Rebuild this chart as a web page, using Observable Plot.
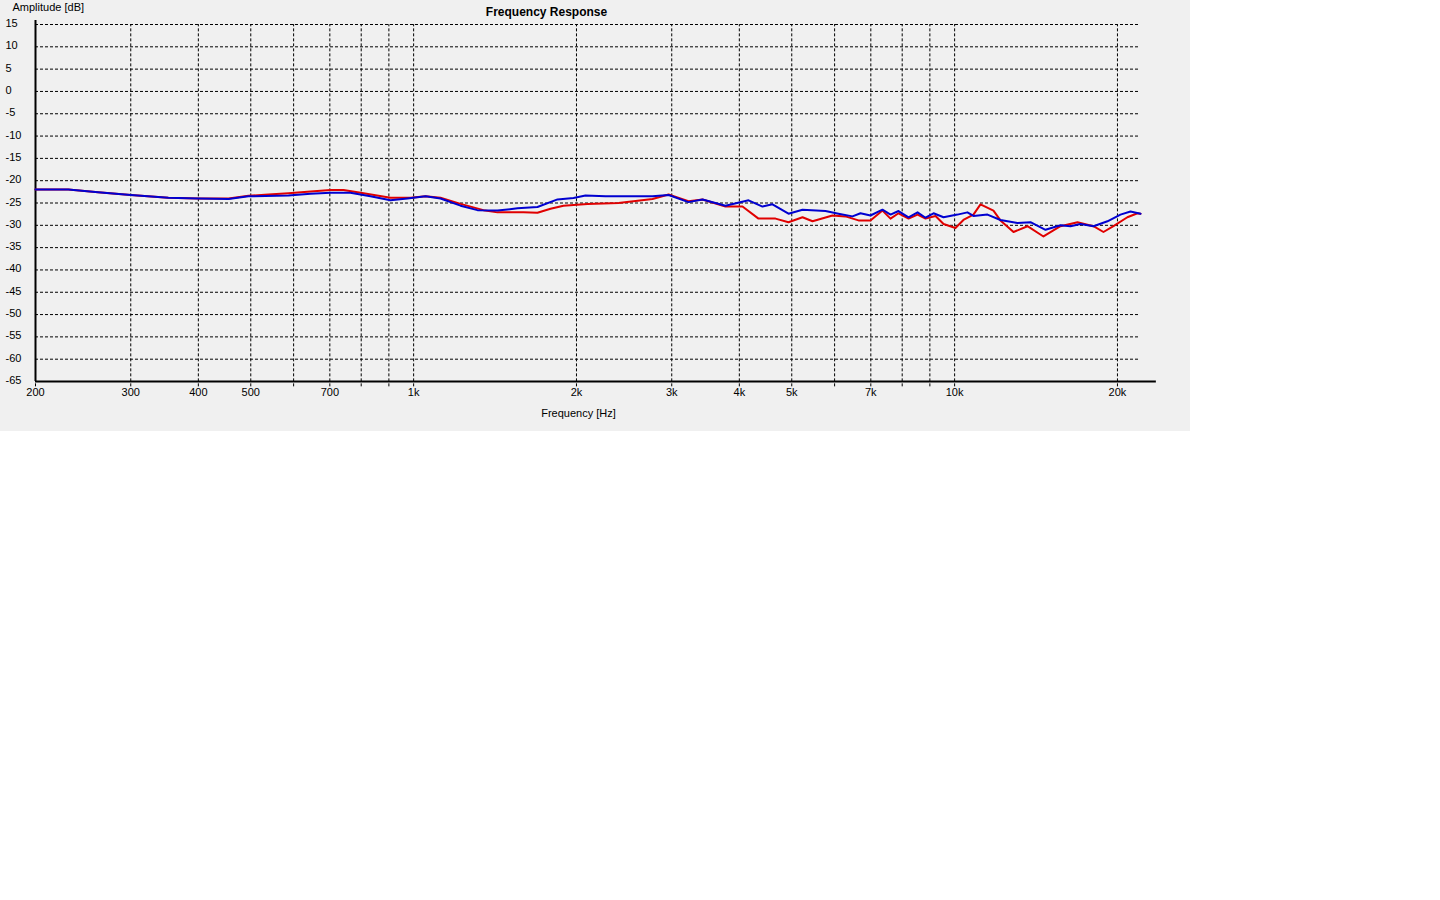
<!DOCTYPE html>
<html>
<head>
<meta charset="utf-8">
<script src="https://cdn.jsdelivr.net/npm/d3@7"></script>
<script src="https://cdn.jsdelivr.net/npm/@observablehq/plot@0.6"></script>
<style>
  html, body { margin: 0; padding: 0; background: #ffffff; }
  #chart svg { display: block; }
</style>
</head>
<body>
<div id="chart"></div>
<script>
// ---- Data ----
const blueFreq = [200, 230, 261, 300, 352, 400, 455, 495, 587, 645, 702, 764, 832, 906, 974, 1052, 1121, 1221, 1312, 1429, 1556, 1694, 1845, 1975, 2078, 2263, 2764, 2960, 3221, 3420, 3771, 4160, 4415, 4606, 4931, 5234, 5772, 6100, 6474, 6699, 6990, 7356, 7612, 7876, 8220, 8540, 8836, 9142, 9540, 10122, 10560, 10834, 11502, 12154, 13068, 13812, 14722, 15690, 16376, 17088, 18058, 19166, 20254, 21140, 22060];
const blueDb = [-22.0, -22.0, -22.6, -23.2, -23.8, -24.0, -24.1, -23.5, -23.3, -22.9, -22.7, -22.7, -23.5, -24.4, -24.0, -23.5, -24.0, -25.6, -26.6, -26.7, -26.2, -25.9, -24.2, -23.9, -23.3, -23.5, -23.5, -23.2, -24.8, -24.2, -25.6, -24.4, -25.8, -25.3, -27.4, -26.5, -26.8, -27.4, -28.0, -27.3, -27.8, -26.5, -27.6, -26.8, -28.2, -27.1, -28.3, -27.3, -28.2, -27.6, -27.1, -27.9, -27.6, -28.8, -29.5, -29.3, -31.0, -30.0, -30.2, -29.7, -30.2, -29.1, -27.6, -26.9, -27.4];

const redFreq = [200, 230, 261, 300, 352, 400, 455, 495, 539, 587, 645, 702, 742, 798, 906, 987, 1052, 1121, 1221, 1346, 1429, 1596, 1694, 1791, 1892, 2096, 2392, 2764, 2960, 3221, 3420, 3771, 4054, 4340, 4666, 4931, 5234, 5462, 5946, 6283, 6642, 6990, 7356, 7612, 7876, 8220, 8540, 8836, 9220, 9540, 10036, 10382, 10834, 11164, 11798, 12154, 12848, 13636, 14596, 15690, 16872, 18058, 18842, 19662, 20860, 21780, 22060];
const redDb = [-22.0, -22.0, -22.6, -23.2, -23.8, -24.0, -24.0, -23.4, -23.1, -22.8, -22.4, -22.1, -22.1, -22.7, -23.8, -23.8, -23.5, -23.8, -25.2, -26.6, -27.1, -27.1, -27.2, -26.3, -25.6, -25.2, -25.0, -24.1, -23.1, -24.6, -24.2, -25.8, -25.8, -28.5, -28.5, -29.3, -28.2, -29.1, -27.8, -28.0, -28.9, -28.9, -26.7, -28.5, -27.3, -28.5, -27.6, -28.5, -27.9, -29.7, -30.6, -28.8, -27.6, -25.3, -26.7, -28.9, -31.5, -30.2, -32.5, -30.2, -29.3, -30.2, -31.5, -30.2, -28.2, -27.3, -27.4];

const yTicks = [15, 10, 5, 0, -5, -10, -15, -20, -25, -30, -35, -40, -45, -50, -55, -60, -65];
const yGrid = [15, 10, 5, 0, -5, -10, -15, -20, -25, -30, -35, -40, -45, -50, -55, -60];
const xTicks = [200, 300, 400, 500, 700, 1000, 2000, 3000, 4000, 5000, 7000, 10000, 20000];
const xGrid = [200, 300, 400, 500, 600, 700, 800, 900, 1000, 2000, 3000, 4000, 5000, 6000, 7000, 8000, 9000, 10000, 20000];

const title = "Frequency Response";
const yLabel = "Amplitude [dB]";
const xLabel = "Frequency [Hz]";

// ---- Layout constants ----
const xDomain = [200, 22060];
const yDomain = [-65, 15];
const xAxisEnd = 23600;   // bottom axis line extends a little past the grid
const yAxisTop = 15.9;    // left axis line extends a little above the grid
const tickBottom = -66.2; // dashed tick stubs below the axis

const blue = blueFreq.map((f, i) => ({f, db: blueDb[i]}));
const red = redFreq.map((f, i) => ({f, db: redDb[i]}));

const fmtX = d => d >= 1000 ? (d / 1000) + "k" : String(d);
const fmtY = d => String(d);

const chart = Plot.plot({
  width: 1190,
  height: 431,
  marginLeft: 35,
  marginRight: 50,
  marginTop: 24,
  marginBottom: 50,
  style: {
    background: "#f0f0f0",
    fontFamily: "'Liberation Sans', Arial, sans-serif",
    fontSize: "11px",
    color: "#000"
  },
  x: {type: "log", domain: xDomain},
  y: {domain: yDomain},
  marks: [
    // grid
    Plot.ruleY(yGrid, {x1: xDomain[0], x2: xDomain[1], stroke: "#000", strokeWidth: 1, strokeDasharray: "3,2"}),
    Plot.ruleX(xGrid, {y1: tickBottom, y2: yDomain[1], stroke: "#000", strokeWidth: 1, strokeDasharray: "3,2"}),
    // axes lines
    Plot.ruleY([yDomain[0]], {x1: xDomain[0], x2: xAxisEnd, stroke: "#000", strokeWidth: 2}),
    Plot.ruleX([xDomain[0]], {y1: yDomain[0], y2: yAxisTop, stroke: "#000", strokeWidth: 2}),
    // tick labels
    Plot.axisY(yTicks, {anchor: "left", tickSize: 0, tickPadding: 30, textAnchor: "start", dy: -1, tickFormat: fmtY, fontSize: 11, fill: "#000", label: null}),
    Plot.axisX(xTicks, {anchor: "bottom", tickSize: 0, tickPadding: 7, tickFormat: fmtX, fontSize: 11, fill: "#000", label: null}),
    // data
    Plot.line(red, {x: "f", y: "db", stroke: "#e00000", strokeWidth: 2}),
    Plot.line(blue, {x: "f", y: "db", stroke: "#0000d0", strokeWidth: 2}),
    // titles
    Plot.text([title], {frameAnchor: "top-left", lineAnchor: "middle", dx: 511, dy: -12, text: d => d, textAnchor: "middle", fontWeight: "bold", fontSize: 12, fill: "#000"}),
    Plot.text([yLabel], {frameAnchor: "top-left", lineAnchor: "middle", dx: -23, dy: -17, text: d => d, textAnchor: "start", fontSize: 11, fill: "#000"}),
    Plot.text([xLabel], {frameAnchor: "bottom-left", lineAnchor: "middle", dx: 543, dy: 32, text: d => d, textAnchor: "middle", fontSize: 11, fill: "#000"})
  ]
});

document.getElementById("chart").appendChild(chart);
</script>
</body>
</html>
